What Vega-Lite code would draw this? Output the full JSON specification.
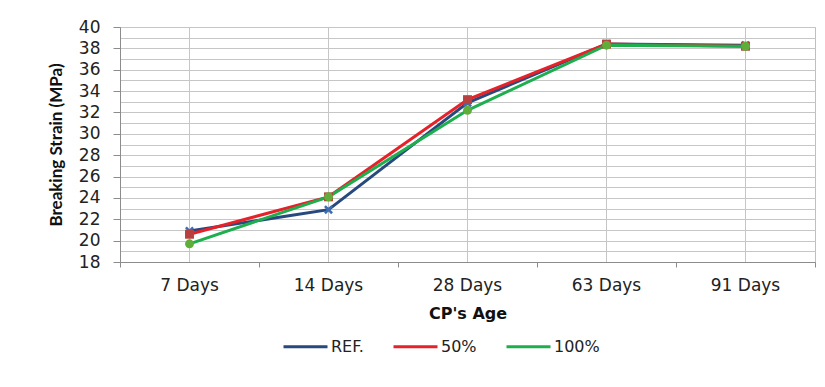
{
  "$schema": "https://vega.github.io/schema/vega-lite/v6.json",
  "width": 695,
  "height": 235,
  "autosize": {"type": "none"},
  "padding": {"left": 120, "top": 27, "right": 10, "bottom": 125},
  "background": "white",
  "config": {
    "view": {"stroke": "#BFBFBF", "strokeWidth": 1},
    "font": "DejaVu Sans",
    "axis": {
      "gridColor": "#C6C6C6",
      "gridWidth": 1,
      "domainColor": "#8C8C8C",
      "tickColor": "#8C8C8C",
      "labelColor": "#222222",
      "titleColor": "#111111",
      "labelFont": "DejaVu Sans",
      "labelFontSize": 17,
      "labelFontWeight": "normal"
    }
  },
  "data": {
    "values": [
      {"age": "7 Days", "series": "REF.", "value": 20.9},
      {"age": "14 Days", "series": "REF.", "value": 22.9},
      {"age": "28 Days", "series": "REF.", "value": 32.9},
      {"age": "63 Days", "series": "REF.", "value": 38.4},
      {"age": "91 Days", "series": "REF.", "value": 38.3},
      {"age": "7 Days", "series": "50%", "value": 20.6},
      {"age": "14 Days", "series": "50%", "value": 24.1},
      {"age": "28 Days", "series": "50%", "value": 33.2},
      {"age": "63 Days", "series": "50%", "value": 38.4},
      {"age": "91 Days", "series": "50%", "value": 38.2},
      {"age": "7 Days", "series": "100%", "value": 19.7},
      {"age": "14 Days", "series": "100%", "value": 24.1},
      {"age": "28 Days", "series": "100%", "value": 32.2},
      {"age": "63 Days", "series": "100%", "value": 38.3},
      {"age": "91 Days", "series": "100%", "value": 38.2}
    ]
  },
  "encoding": {
    "y": {
      "field": "value",
      "type": "quantitative",
      "scale": {"domain": [18, 40], "nice": false, "zero": false},
      "axis": {
        "values": [18,19,20,21,22,23,24,25,26,27,28,29,30,31,32,33,34,35,36,37,38,39,40],
        "labelExpr": "datum.value % 2 == 0 ? datum.label : ''",
        "tickSize": 7,
        "tickOpacity": {"condition": {"test": "datum.value % 2 == 0", "value": 1}, "value": 0},
        "labelPadding": 13,
        "title": "Breaking Strain (MPa)",
        "titleFont": "Lato",
        "titleFontSize": 17,
        "titleFontWeight": "bold",
        "titlePadding": 13
      }
    }
  },
  "layer": [
    {
      "mark": {"type": "line", "strokeWidth": 3},
      "encoding": {
        "x": {
          "field": "age",
          "type": "nominal",
          "sort": ["7 Days", "14 Days", "28 Days", "63 Days", "91 Days"],
          "scale": {"type": "band", "paddingInner": 0, "paddingOuter": 0},
          "axis": {
            "orient": "bottom",
            "grid": true,
            "ticks": false,
            "domain": true,
            "labelAngle": 0,
            "labelPadding": 15,
            "title": "CP's Age",
            "titleFont": "DejaVu Sans",
            "titleFontSize": 16,
            "titleFontWeight": "bold",
            "titlePadding": 12
          }
        },
        "color": {
          "field": "series",
          "type": "nominal",
          "sort": ["REF.", "50%", "100%"],
          "scale": {"domain": ["REF.", "50%", "100%"], "range": ["#27497E", "#E5222A", "#1EAE4E"]},
          "legend": {
            "orient": "none",
            "legendX": 162,
            "legendY": 296,
            "direction": "horizontal",
            "title": null,
            "symbolType": "M-1,0H1",
            "symbolSize": 1936,
            "symbolStrokeWidth": 3,
            "labelFont": "DejaVu Sans",
            "labelFontSize": 16,
            "labelColor": "#222222",
            "labelOffset": 2,
            "columnPadding": 23
          }
        }
      }
    },
    {
      "transform": [{"filter": "datum.series == 'REF.'"}],
      "mark": {"type": "point", "filled": true, "size": 80, "opacity": 1, "color": "#3D6DB0",
               "shape": "M-1,-0.6L-0.6,-1L0,-0.4L0.6,-1L1,-0.6L0.4,0L1,0.6L0.6,1L0,0.4L-0.6,1L-1,0.6L-0.4,0Z"},
      "encoding": {
        "x": {
          "field": "age",
          "type": "nominal",
          "sort": ["7 Days", "14 Days", "28 Days", "63 Days", "91 Days"],
          "axis": {
            "orient": "bottom",
            "grid": false,
            "labels": false,
            "domain": false,
            "ticks": true,
            "tickBand": "extent",
            "tickSize": 5,
            "title": null
          }
        }
      }
    },
    {
      "transform": [{"filter": "datum.series == '50%'"}],
      "mark": {"type": "point", "filled": true, "size": 80, "opacity": 1, "color": "#B8403E", "shape": "square"},
      "encoding": {
        "x": {
          "field": "age",
          "type": "nominal",
          "sort": ["7 Days", "14 Days", "28 Days", "63 Days", "91 Days"],
          "axis": null
        }
      }
    },
    {
      "transform": [{"filter": "datum.series == '100%'"}],
      "mark": {"type": "point", "filled": true, "size": 80, "opacity": 1, "color": "#5FAE3A", "shape": "circle"},
      "encoding": {
        "x": {
          "field": "age",
          "type": "nominal",
          "sort": ["7 Days", "14 Days", "28 Days", "63 Days", "91 Days"],
          "axis": null
        }
      }
    }
  ],
  "resolve": {"axis": {"x": "independent"}}
}
